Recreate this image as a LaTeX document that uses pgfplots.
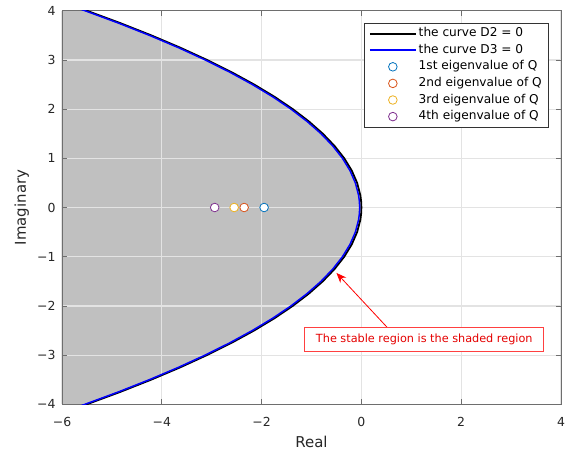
\documentclass[border=0pt]{standalone}
\usepackage{fontspec}
\setmainfont{DejaVu Sans}
\usepackage{pgfplots}
\usepackage{pgfplotstable}
\pgfplotsset{compat=1.18}
\usetikzlibrary{arrows.meta}
\definecolor{mlBlue}{HTML}{0072BD}
\definecolor{mlRed}{HTML}{D95319}
\definecolor{mlYellow}{HTML}{EDB120}
\definecolor{mlPurple}{HTML}{7E2F8E}
\definecolor{regionGray}{HTML}{C0C0C0}
\definecolor{gridGray}{HTML}{E3E3E3}
\definecolor{frameGray}{HTML}{6E6E6E}

% boundary curves: xb = curve D2 = 0, xl = curve D3 = 0
\pgfplotstableread{
y      xb       xl
4.25   -6.2135  -6.2485
4      -5.504   -5.539
3.75   -4.8375  -4.8725
3.5    -4.214   -4.249
3.25   -3.6335  -3.6685
3      -3.096   -3.131
2.75   -2.6015  -2.6365
2.5    -2.15    -2.185
2.25   -1.7415  -1.7765
2      -1.376   -1.411
1.75   -1.0535  -1.0885
1.5    -0.774   -0.809
1.25   -0.5375  -0.5725
1      -0.344   -0.379
0.75   -0.1935  -0.2285
0.5    -0.086   -0.121
0.25   -0.0215  -0.0565
0.125  -0.0054  -0.0404
0       0       -0.035
-0.125 -0.0054  -0.0404
-0.25  -0.0215  -0.0565
-0.5   -0.086   -0.121
-0.75  -0.1935  -0.2285
-1     -0.344   -0.379
-1.25  -0.5375  -0.5725
-1.5   -0.774   -0.809
-1.75  -1.0535  -1.0885
-2     -1.376   -1.411
-2.25  -1.7415  -1.7765
-2.5   -2.15    -2.185
-2.75  -2.6015  -2.6365
-3     -3.096   -3.131
-3.25  -3.6335  -3.6685
-3.5   -4.214   -4.249
-3.75  -4.8375  -4.8725
-4     -5.504   -5.539
-4.25  -6.2135  -6.2485
}\curve

% shaded (stable) region, kept inside the axis box
\pgfplotstableread{
y      x
4      -5.539
3.75   -4.8725
3.5    -4.249
3.25   -3.6685
3      -3.131
2.75   -2.6365
2.5    -2.185
2.25   -1.7765
2      -1.411
1.75   -1.0885
1.5    -0.809
1.25   -0.5725
1      -0.379
0.75   -0.2285
0.5    -0.121
0.25   -0.0565
0.125  -0.0404
0      -0.035
-0.125 -0.0404
-0.25  -0.0565
-0.5   -0.121
-0.75  -0.2285
-1     -0.379
-1.25  -0.5725
-1.5   -0.809
-1.75  -1.0885
-2     -1.411
-2.25  -1.7765
-2.5   -2.185
-2.75  -2.6365
-3     -3.131
-3.25  -3.6685
-3.5   -4.249
-3.75  -4.8725
-4     -5.539
-4     -6
4      -6
}\region

\begin{document}
\begin{tikzpicture}
\begin{axis}[
  set layers,
  scale only axis,
  width=499bp, height=393.6bp,
  xmin=-6, xmax=4, ymin=-4, ymax=4,
  xtick={-6,-4,-2,0,2,4},
  xticklabels={−6,−4,−2,0,2,4},
  ytick={-4,-3,-2,-1,0,1,2,3,4},
  yticklabels={−4,−3,−2,−1,0,1,2,3,4},
  tick align=inside,
  major tick length=5bp,
  tick style={frameGray, line width=0.7bp},
  axis line style={frameGray, line width=0.8bp},
  grid=major,
  major grid style={gridGray, line width=1.2bp},
  tick label style={font=\fontsize{12.5}{14}\selectfont, text=black!85},
  xticklabel style={yshift=-9.5bp},
  yticklabel style={xshift=-3bp},
  xlabel={Real}, ylabel={Imaginary},
  label style={font=\fontsize{15}{17}\selectfont, text=black!85},
  xlabel style={at={(axis description cs:0.5,-0.0958)}, anchor=center},
  ylabel style={at={(axis description cs:-0.0808,0.5)}, anchor=center},
  legend style={at={(1,1)}, anchor=north east, xshift=-12bp, yshift=-12.3bp,
    draw=black!80, line width=0.6bp, inner xsep=5bp, inner ysep=2bp,
    font=\fontsize{12.2}{14}\selectfont,
    nodes={inner ysep=1.9bp, text depth=3.3bp, text height=9.5bp}},
  legend cell align=left,
  legend image code/.code={\draw[mark repeat=2, mark phase=2, #1]
    plot coordinates {(0bp,0bp) (23bp,0bp) (46bp,0bp)};},
]
\addplot[fill=regionGray, draw=none, on layer=axis background, forget plot]
  table[x=x, y=y] {\region};
\addplot[black, line width=1.8bp] table[x=xb, y=y] {\curve};
\addlegendentry{the curve D2 = 0}
\addplot[blue, line width=1.5bp] table[x=xl, y=y] {\curve};
\addlegendentry{the curve D3 = 0}
\addplot[only marks, mark=*, mark size=4.3bp,
  mark options={fill=white, draw=mlBlue, line width=0.8bp}] coordinates {(-1.95,0)};
\addlegendentry{1st eigenvalue of Q}
\addplot[only marks, mark=*, mark size=4.3bp,
  mark options={fill=white, draw=mlRed, line width=0.8bp}] coordinates {(-2.35,0)};
\addlegendentry{2nd eigenvalue of Q}
\addplot[only marks, mark=*, mark size=4.3bp,
  mark options={fill=white, draw=mlYellow, line width=0.8bp}] coordinates {(-2.55,0)};
\addlegendentry{3rd eigenvalue of Q}
\addplot[only marks, mark=*, mark size=4.3bp,
  mark options={fill=white, draw=mlPurple, line width=0.8bp}] coordinates {(-2.94,0)};
\addlegendentry{4th eigenvalue of Q}

\draw[red, line width=0.8bp, -{Stealth[length=10bp, width=8bp]}]
  (axis cs:0.52,-2.44) -- (axis cs:-0.5,-1.33);
\node[draw=red!75, fill=white, line width=0.8bp, text=red!90!black,
  font=\fontsize{11.3}{13}\selectfont, inner xsep=9bp,
  minimum height=24bp, minimum width=239bp] at (axis cs:1.26,-2.69)
  {The stable region is the shaded region};
\end{axis}
\pgfresetboundingbox
\path (-62bp,-54.7bp) rectangle (511bp,404.3bp);
\end{tikzpicture}
\end{document}
